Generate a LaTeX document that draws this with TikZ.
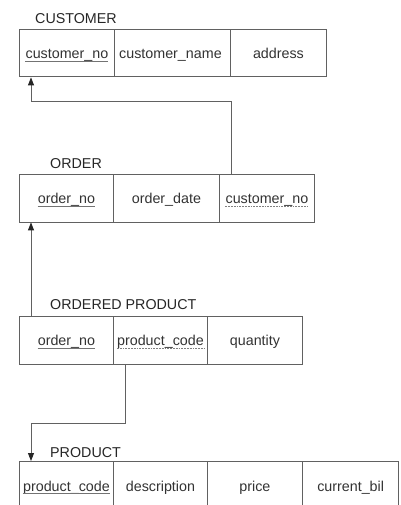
\documentclass[tikz,border=0pt]{standalone}
\usepackage{fontspec}
\setmainfont{Liberation Sans}
\usetikzlibrary{arrows.meta,calc}
\begin{document}
\begin{tikzpicture}[x=1pt,y=-1pt,
  cell/.style={draw=black!62,line width=0.9pt,rectangle,anchor=north west,inner sep=0pt,minimum height=47.5pt},
  txt/.style={anchor=base,inner sep=0pt,text=black!80,font=\fontsize{14.3}{16}\selectfont},
  ttl/.style={anchor=base west,inner sep=0pt,text=black!85,font=\fontsize{14.3}{16}\selectfont},
  pk/.style={draw=black!55,line width=0.9pt},
  fk/.style={draw=black!50,line width=0.8pt,dash pattern=on 1.8pt off 1pt},
  conn/.style={draw=black!62,line width=0.9pt},
  tip/.style={-{Triangle[length=8pt,width=6pt,color=black!85]}}]
\clip (0,0) rectangle (400,505);
\fill[white] (0,0) rectangle (400,505);

% CUSTOMER
\node[ttl] (tcu) at (35,24) {CUSTOMER};
\node[cell,minimum width=95pt] (cu1) at (19,29) {};
\node[cell,minimum width=116pt] (cu2) at (114,29) {};
\node[cell,minimum width=96pt] (cu3) at (230,29) {};
\node[txt] (cu1t) at ($(cu1.center)+(0,5.5)$) {customer\_no};
\node[txt] (cu2t) at ($(cu2.center)+(-2,5.5)$) {customer\_name};
\node[txt] (cu3t) at ($(cu3.center)+(0,5.5)$) {address};
\draw[pk] ([yshift=-2.5pt]cu1t.base west) -- ([yshift=-2.5pt]cu1t.base east);

% ORDER
\node[ttl] (tor) at (50,168) {ORDER};
\node[cell,minimum width=94pt] (or1) at (19,174) {};
\node[cell,minimum width=106pt] (or2) at (113,174) {};
\node[cell,minimum width=95pt] (or3) at (219,174) {};
\node[txt] (or1t) at ($(or1.center)+(0,5.5)$) {order\_no};
\node[txt] (or2t) at ($(or2.center)+(0,5.5)$) {order\_date};
\node[txt] (or3t) at ($(or3.center)+(0,5.5)$) {customer\_no};
\draw[pk] ([yshift=-2.5pt]or1t.base west) -- ([yshift=-2.5pt]or1t.base east);
\draw[fk] ([yshift=-2.5pt]or3t.base west) -- ([yshift=-2.5pt]or3t.base east);

% ORDERED PRODUCT
\node[ttl] (top) at (50,309) {ORDERED PRODUCT};
\node[cell,minimum width=94pt] (op1) at (19,316) {};
\node[cell,minimum width=94pt] (op2) at (113,316) {};
\node[cell,minimum width=95pt] (op3) at (207,316) {};
\node[txt] (op1t) at ($(op1.center)+(0,5.5)$) {order\_no};
\node[txt] (op2t) at ($(op2.center)+(0,5.5)$) {product\_code};
\node[txt] (op3t) at ($(op3.center)+(0,5.5)$) {quantity};
\draw[pk] ([yshift=-2.5pt]op1t.base west) -- ([yshift=-2.5pt]op1t.base east);
\draw[fk] ([yshift=-2.5pt]op2t.base west) -- ([yshift=-2.5pt]op2t.base east);

% PRODUCT
\node[ttl] (tpr) at (50,457) {PRODUCT};
\node[cell,minimum width=94pt,minimum height=49pt] (pr1) at (19,461) {};
\node[cell,minimum width=94pt,minimum height=49pt] (pr2) at (113,461) {};
\node[cell,minimum width=95pt,minimum height=49pt] (pr3) at (207,461) {};
\node[cell,minimum width=96pt,minimum height=49pt,line width=1.3pt] (pr4) at (302,461) {};
\node[txt] (pr1t) at ($(pr1.north)+(0,30)$) {product\_code};
\node[txt] (pr2t) at ($(pr2.north)+(0,30)$) {description};
\node[txt] (pr3t) at ($(pr3.north)+(0,30)$) {price};
\node[txt] (pr4t) at ($(pr4.north)+(0,30)$) {current\_bil};
\draw[pk] ([yshift=-2.5pt]pr1t.base west) -- ([yshift=-2.5pt]pr1t.base east);

% connectors
\draw[conn,tip] ([xshift=12pt]or3.north west) |- ([xshift=12pt,yshift=-24pt]cu1.south west) -- ([xshift=12pt]cu1.south west);
\draw[conn,tip] ([xshift=12pt]op1.north west) -- ([xshift=12pt]or1.south west);
\draw[conn,tip] ([xshift=12pt]op2.south west) |- ([xshift=12pt,yshift=38pt]pr1.north west) -- ([xshift=12pt]pr1.north west);
\end{tikzpicture}
\end{document}
